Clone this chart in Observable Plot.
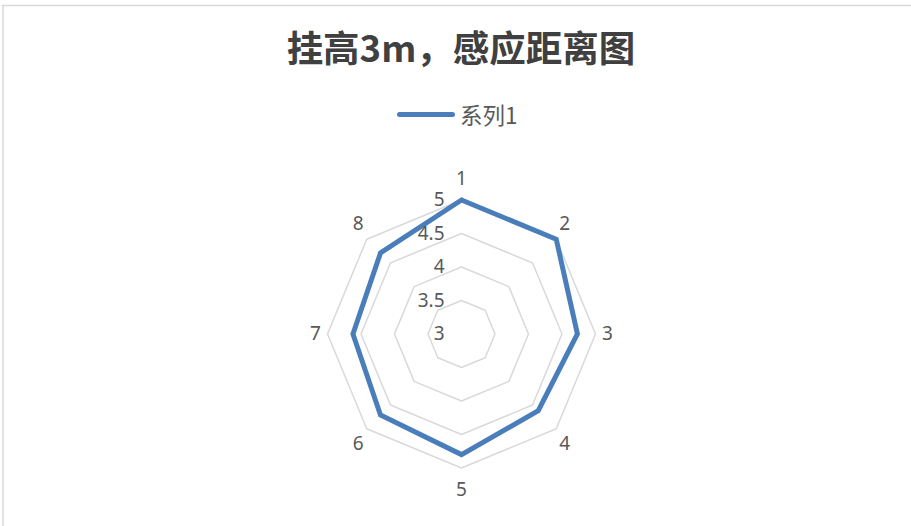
<!DOCTYPE html>
<html>
<head>
<meta charset="utf-8">
<script src="https://cdn.jsdelivr.net/npm/d3@7"></script>
<script src="https://cdn.jsdelivr.net/npm/@observablehq/plot@0.6"></script>
<style>
  html, body { margin: 0; padding: 0; background: #fff; }
  #wrap { position: relative; width: 911px; height: 526px; overflow: hidden; font-family: "Noto Sans", "Noto Sans CJK SC", sans-serif; }
  #title { position: absolute; left: 0; width: 922px; top: 23px; text-align: center; font-family: "Noto Sans CJK SC", sans-serif; font-weight: bold; font-size: 36.5px; line-height: 48px; color: #404040; }
  #legend { position: absolute; left: 397px; top: 100px; height: 28px; display: flex; align-items: center; font-family: "Noto Sans CJK SC", sans-serif; font-size: 22.5px; color: #595959; }
  #legend .sw { width: 58px; height: 5px; border-radius: 3px; background: #4a7ebb; margin-right: 5px; }
  #chart { position: absolute; left: 0; top: 0; }
</style>
</head>
<body>
<div id="wrap">
  <div id="chart"></div>
  <div id="title">挂高3m，感应距离图</div>
  <div id="legend"><div class="sw"></div><span>系列1</span></div>
</div>
<script>
const categories = ["1", "2", "3", "4", "5", "6", "7", "8"];
const values = [5.0, 5.0, 4.73, 4.62, 4.80, 4.71, 4.62, 4.71];
const ticks = [3, 3.5, 4, 4.5, 5];
const seriesName = "系列1";

const W = 911, H = 526;
const cx = 461, cy = 333.5, R = 134;
const vMin = 3, vMax = 5;
const rad = v => (v - vMin) / (vMax - vMin);
const ang = i => (i / categories.length) * 2 * Math.PI;

const pts = values.map((v, i) => ({cat: categories[i], i, r: rad(v)}));
const loop = [...pts, pts[0]];

const grid = [];
ticks.filter(t => t > vMin).forEach(t => {
  for (let i = 0; i <= categories.length; i++) grid.push({t, i: i % categories.length, r: rad(t)});
});

const xs = p => p.r * Math.sin(ang(p.i));
const ys = p => p.r * Math.cos(ang(p.i));

const plot = Plot.plot({
  width: W, height: H,
  margin: 0,
  x: {domain: [-cx / R, (W - cx) / R], range: [0, W], axis: null},
  y: {domain: [-(H - cy) / R, cy / R], range: [H, 0], axis: null},
  style: {background: "transparent"},
  marks: [
    Plot.line(grid, {x: xs, y: ys, z: "t", stroke: "#d9d9d9", strokeWidth: 1.5}),
    Plot.line(loop, {x: xs, y: ys, stroke: "#4a7ebb", strokeWidth: 5, strokeLinejoin: "miter", strokeMiterlimit: 4}),
    Plot.text(ticks, {x: 0, y: t => rad(t), text: t => String(t), textAnchor: "end", dx: -17,
      fill: "#595959", fontSize: 19, fontFamily: "Noto Sans"}),
    Plot.text(categories.map((c, i) => ({c, i})), {
      x: d => 1.09 * Math.sin(ang(d.i)), y: d => 1.16 * Math.cos(ang(d.i)), text: "c",
      fill: "#595959", fontSize: 19, fontFamily: "Noto Sans"}),
    Plot.ruleY([cy / R - 5 / R], {x1: -cx / R + 2 / R, x2: (W - cx) / R, stroke: "#d9d9d9", strokeWidth: 1.5}),
    Plot.ruleX([-cx / R + 2.5 / R], {y1: cy / R - 5 / R, y2: -(H - cy) / R, stroke: "#d9d9d9", strokeWidth: 1.5})
  ]
});
document.getElementById("chart").appendChild(plot);
</script>
</body>
</html>
